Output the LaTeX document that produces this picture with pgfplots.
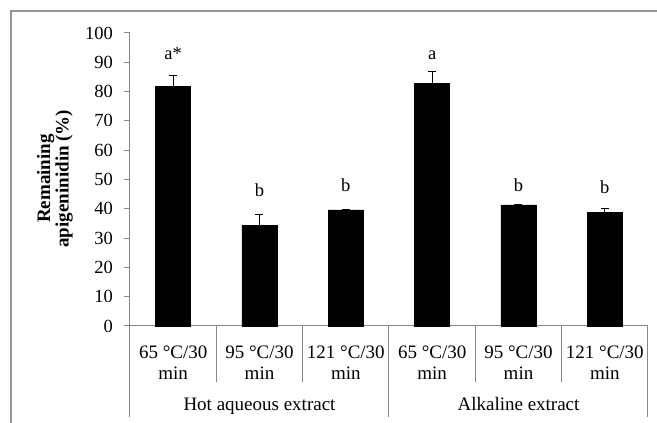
\documentclass[border=0pt]{standalone}
\usepackage{fontspec}
\setmainfont{Liberation Serif}
\usepackage{pgfplots}
\pgfplotsset{compat=1.18}
\definecolor{axisgray}{RGB}{134,134,134}
\definecolor{framegray}{RGB}{150,150,150}

\begin{document}
\begin{tikzpicture}
\useasboundingbox (0,0) rectangle (657pt,423pt);
% outer chart frame (right and bottom edge cropped in the original)
\draw[framegray, line width=1.6pt] (11pt,0) -- (11pt,412pt) -- (657pt,412pt);
\begin{axis}[
    at={(130pt,97pt)}, anchor=south west,
    scale only axis,
    width=518pt, height=293pt,
    xmin=0, xmax=6,
    ymin=0, ymax=100,
    axis lines*=left,
    axis line style={draw=axisgray, line width=1pt, -},
    ytick={0,10,...,100},
    tick align=outside,
    major tick length=6pt,
    ytick style={draw=axisgray, line width=1pt},
    xtick={0.5,1.5,2.5,3.5,4.5,5.5},
    xtick style={draw=none},
    xticklabels={{65 °C/30\\min},{95 °C/30\\min},{121 °C/30\\min},
                 {65 °C/30\\min},{95 °C/30\\min},{121 °C/30\\min}},
    xticklabel style={align=center, inner sep=0pt, anchor=north, yshift=-14pt,
        font=\fontsize{19}{20.5}\selectfont},
    yticklabel style={inner sep=0pt, xshift=-11pt, font=\fontsize{18.5}{20}\selectfont},
    /pgf/number format/assume math mode=true,
    ylabel={Remaining\\apigeninidin (\%)},
    ylabel style={at={(axis description cs:-0.145,0.503)}, anchor=center,
        align=center, font=\bfseries\fontsize{19}{16.5}\selectfont},
    ybar, bar width=35pt,
    clip=false,
]
\addplot[fill=black, draw=black,
    error bars/.cd, y dir=plus, y explicit,
    error mark=-, error mark options={black, rotate=90, mark size=4pt, line width=1.1pt},
    error bar style={black, line width=1.1pt}]
    coordinates {
      (0.5,81.8) +- (0,3.6)
      (1.5,34.4) +- (0,3.6)
      (2.5,39.6) +- (0,0.3)
      (3.5,82.9) +- (0,4.1)
      (4.5,41.3) +- (0,0.3)
      (5.5,38.8) +- (0,1.4)
    };
% significance letters
\begin{scope}[every node/.style={anchor=base, font=\fontsize{18.5}{20}\selectfont}]
\node at (axis cs:0.5,90.8) {a*};
\node at (axis cs:1.5,44.1) {b};
\node at (axis cs:2.5,45.8) {b};
\node at (axis cs:3.5,91.0) {a};
\node at (axis cs:4.5,45.8) {b};
\node at (axis cs:5.5,45.3) {b};
\end{scope}
% category separators
\pgfplotsinvokeforeach{1,2,4,5}{
  \draw[axisgray, line width=1pt] (axis cs:#1,0) -- ++(0,-56pt);
}
\pgfplotsinvokeforeach{0,3,6}{
  \draw[axisgray, line width=1pt] (axis cs:#1,0) -- ++(0,-91pt);
}
\node[anchor=base, font=\fontsize{19}{20}\selectfont] at (axis cs:1.5,0) [yshift=-85pt] {Hot aqueous extract};
\node[anchor=base, font=\fontsize{19}{20}\selectfont] at (axis cs:4.5,0) [yshift=-85pt] {Alkaline extract};
\end{axis}
\end{tikzpicture}
\end{document}
